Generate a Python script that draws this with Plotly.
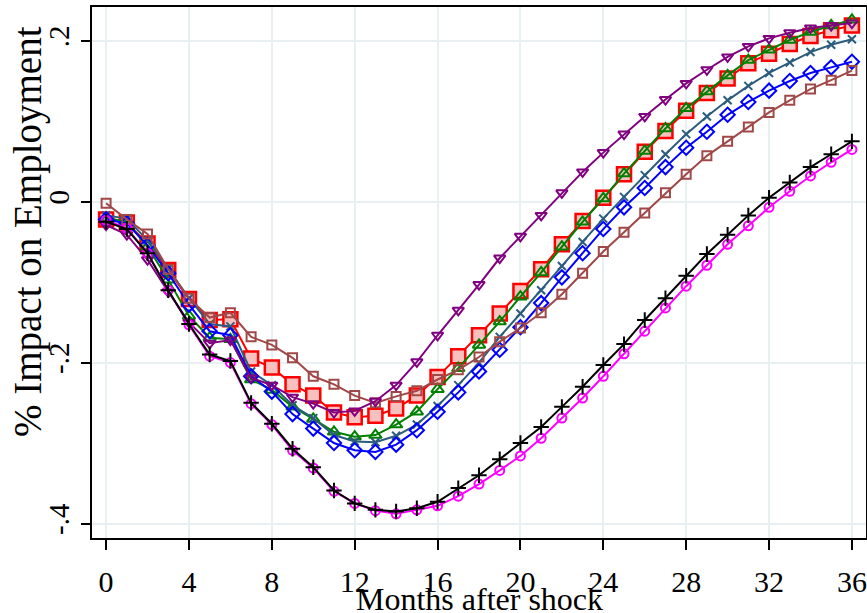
import plotly.graph_objects as go

months = list(range(37))

red_sq = [-0.022, -0.026, -0.052, -0.085, -0.121, -0.147, -0.146, -0.195, -0.206, -0.227, -0.241, -0.262, -0.268, -0.266, -0.257, -0.241, -0.218, -0.192, -0.166, -0.139, -0.111, -0.084, -0.053, -0.024, 0.005, 0.034, 0.062, 0.088, 0.113, 0.135, 0.153, 0.172, 0.184, 0.196, 0.206, 0.213, 0.219]
green_tri = [-0.020, -0.025, -0.056, -0.097, -0.142, -0.169, -0.171, -0.221, -0.234, -0.255, -0.270, -0.286, -0.292, -0.290, -0.277, -0.261, -0.233, -0.207, -0.178, -0.149, -0.118, -0.088, -0.056, -0.025, 0.004, 0.035, 0.063, 0.091, 0.116, 0.137, 0.157, 0.176, 0.189, 0.201, 0.211, 0.219, 0.226]
navy_x = [-0.017, -0.021, -0.048, -0.083, -0.120, -0.152, -0.155, -0.211, -0.228, -0.253, -0.269, -0.290, -0.298, -0.299, -0.291, -0.277, -0.254, -0.228, -0.200, -0.168, -0.139, -0.110, -0.080, -0.050, -0.021, 0.006, 0.033, 0.059, 0.084, 0.106, 0.126, 0.144, 0.160, 0.173, 0.186, 0.195, 0.202]
blue_dia = [-0.022, -0.027, -0.054, -0.089, -0.128, -0.161, -0.166, -0.217, -0.236, -0.264, -0.282, -0.300, -0.309, -0.311, -0.302, -0.284, -0.261, -0.237, -0.211, -0.184, -0.156, -0.126, -0.094, -0.064, -0.034, -0.007, 0.017, 0.043, 0.067, 0.087, 0.108, 0.124, 0.138, 0.150, 0.160, 0.167, 0.174]
brown_sq = [-0.002, -0.022, -0.040, -0.084, -0.120, -0.144, -0.138, -0.168, -0.178, -0.194, -0.217, -0.227, -0.241, -0.250, -0.242, -0.235, -0.221, -0.209, -0.193, -0.174, -0.157, -0.138, -0.115, -0.089, -0.062, -0.038, -0.014, 0.011, 0.034, 0.057, 0.075, 0.093, 0.111, 0.126, 0.140, 0.151, 0.163]
purple_v = [-0.029, -0.041, -0.072, -0.112, -0.150, -0.176, -0.172, -0.219, -0.228, -0.243, -0.251, -0.262, -0.260, -0.248, -0.228, -0.199, -0.166, -0.135, -0.103, -0.070, -0.043, -0.017, 0.011, 0.037, 0.061, 0.084, 0.106, 0.127, 0.147, 0.164, 0.180, 0.193, 0.203, 0.210, 0.216, 0.219, 0.222]
magenta_o = [-0.023, -0.033, -0.064, -0.110, -0.153, -0.192, -0.200, -0.251, -0.277, -0.309, -0.331, -0.360, -0.375, -0.384, -0.388, -0.383, -0.378, -0.366, -0.351, -0.334, -0.316, -0.294, -0.269, -0.244, -0.217, -0.189, -0.161, -0.132, -0.105, -0.079, -0.053, -0.030, -0.007, 0.013, 0.032, 0.049, 0.065]
black_plus = [-0.025, -0.034, -0.064, -0.110, -0.152, -0.190, -0.198, -0.250, -0.276, -0.307, -0.330, -0.359, -0.375, -0.383, -0.385, -0.381, -0.373, -0.356, -0.340, -0.320, -0.300, -0.280, -0.255, -0.230, -0.203, -0.177, -0.147, -0.120, -0.092, -0.065, -0.041, -0.017, 0.005, 0.024, 0.043, 0.059, 0.075]

x_ticks = [0, 4, 8, 12, 16, 20, 24, 28, 32, 36]
y_ticks = [-0.4, -0.2, 0, 0.2]
y_ticktext = ["-.4", "-.2", "0", ".2"]
x_title = "Months after shock"
y_title = "% Impact on Employment"

fig = go.Figure()

def add(y, color, symbol, size, fill=None, mlw=2, name=""):
    fig.add_trace(go.Scatter(
        x=months, y=y, mode="lines+markers", name=name,
        line=dict(color=color, width=2),
        marker=dict(symbol=symbol, size=size,
                    color=fill if fill else color,
                    line=dict(color=color, width=mlw)),
        showlegend=False,
    ))

add(red_sq, "#ff0000", "square", 14, fill="#f9c0c0", mlw=2.5, name="red")
add(green_tri, "#008000", "triangle-up-open", 11, name="green")
add(navy_x, "#2b5c7e", "x-thin", 8, name="navy")
add(blue_dia, "#0000ff", "diamond-open", 11, name="blue")
add(brown_sq, "#a04848", "square-open", 9, name="brown")
add(purple_v, "#800080", "triangle-down-open", 10, name="purple")
add(magenta_o, "#ff00ff", "circle-open", 9, name="magenta")
add(black_plus, "#000000", "cross-thin", 11, name="black")

font_family = "Liberation Serif, Times New Roman, serif"
grid_color = "#e9f0f2"

W, H = 867, 613
L, R, T, B = 92, 1, 7, 75
ph = H - T - B

fig.update_layout(
    width=W, height=H, autosize=False,
    margin=dict(l=L, r=R, t=T, b=B),
    paper_bgcolor="white", plot_bgcolor="white",
    font=dict(family=font_family, color="black", size=28),
    xaxis=dict(
        range=[-0.68, 36.68], tickvals=x_ticks, automargin=False,
        ticks="outside", ticklen=10, tickwidth=2, tickcolor="black",
        showline=True, linecolor="black", linewidth=2, mirror=True,
        showgrid=True, gridcolor=grid_color, gridwidth=2, zeroline=False,
        tickfont=dict(size=30, family=font_family), ticklabelstandoff=6,
    ),
    yaxis=dict(
        range=[-0.418, 0.242], tickvals=y_ticks, ticktext=y_ticktext, tickangle=-90,
        automargin=False,
        ticks="outside", ticklen=9, tickwidth=2, tickcolor="black",
        showline=True, linecolor="black", linewidth=2, mirror=True,
        showgrid=True, gridcolor=grid_color, gridwidth=2, zeroline=False,
        tickfont=dict(size=29, family=font_family),
    ),
    annotations=[
        dict(text=x_title, xref="paper", yref="paper", x=0.5, y=-(579 - (H - B)) / ph,
             xanchor="center", yanchor="top", showarrow=False,
             font=dict(size=32, family=font_family, color="black")),
        dict(text=y_title, xref="paper", yref="paper", x=-(L - 28) / (W - L - R),
             y=((H - B) - 232) / ph,
             xanchor="center", yanchor="middle", textangle=-90, showarrow=False,
             font=dict(size=39, family=font_family, color="black")),
    ],
)

fig.write_html("out.html", config={"displayModeBar": False},
               post_script="document.body.style.margin='0';document.body.style.overflow='hidden';")
